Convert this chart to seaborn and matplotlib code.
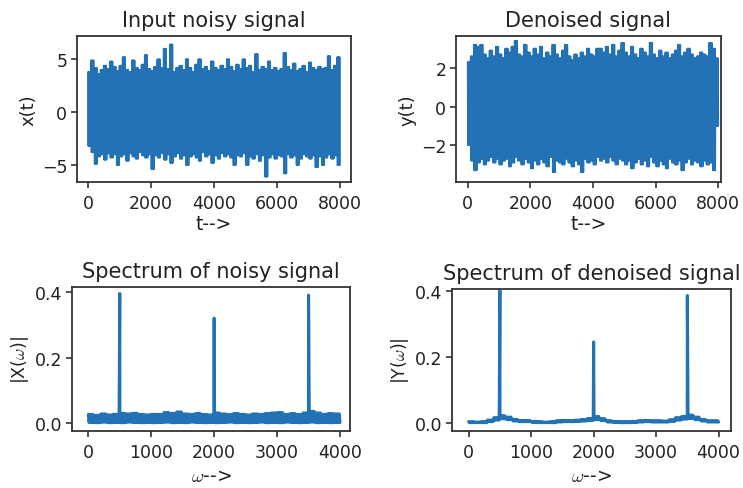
import numpy as np
import pandas as pd
import matplotlib
matplotlib.use("Agg")
import matplotlib.pyplot as plt
import seaborn as sns

# ---------------- data ----------------
# time-domain envelopes (one value per 100 samples, 0..8000)
noisy_upper = [3.8, 4.9, 4.2, 3.6, 4.0, 4.4, 4.1, 4.8, 4.3, 3.9,
               4.4, 5.2, 4.0, 3.8, 4.9, 4.2, 4.0, 4.5, 5.4, 4.1,
               3.9, 4.3, 5.0, 4.2, 6.0, 4.1, 6.4, 3.8, 4.2, 4.4,
               4.0, 5.0, 4.2, 3.8, 4.5, 5.0, 4.1, 4.3, 3.9, 4.8,
               4.2, 4.0, 4.4, 4.1, 5.0, 4.3, 3.9, 4.5, 4.1, 5.0,
               4.2, 4.4, 3.8, 5.5, 4.0, 4.3, 4.1, 4.8, 4.0, 4.2,
               3.9, 4.1, 5.6, 4.3, 4.0, 4.6, 3.9, 4.1, 4.4, 3.8,
               4.7, 4.2, 4.0, 4.3, 4.1, 4.2, 5.3, 4.0, 4.4, 5.2]
noisy_lower = [-3.2, -3.8, -4.9, -4.2, -4.0, -4.5, -3.9, -4.3, -4.0, -5.0,
               -4.2, -4.0, -4.6, -3.9, -4.2, -4.4, -3.8, -4.1, -4.3, -4.0,
               -5.4, -4.1, -4.3, -3.9, -4.5, -4.0, -4.8, -4.2, -3.9, -4.4,
               -4.1, -5.0, -4.2, -4.0, -4.3, -4.6, -3.8, -4.2, -4.0, -4.8,
               -4.1, -4.4, -3.9, -4.2, -4.0, -4.3, -5.0, -4.1, -4.2, -3.9,
               -5.0, -4.2, -4.4, -4.0, -4.6, -4.1, -6.1, -4.3, -4.0, -4.4,
               -4.1, -4.2, -5.8, -4.0, -4.3, -4.1, -5.0, -4.4, -4.0, -4.2,
               -4.4, -4.1, -5.2, -4.2, -5.0, -4.3, -4.0, -4.4, -4.1, -5.0]
den_upper = [2.3, 2.6, 3.2, 3.1, 3.2, 2.7, 2.5, 2.9, 2.6, 3.1,
             2.7, 2.5, 3.0, 2.8, 3.1, 3.4, 2.7, 2.6, 3.2, 2.8,
             2.6, 3.0, 2.7, 3.1, 2.5, 2.8, 2.6, 3.2, 2.7, 2.5,
             2.9, 3.2, 2.6, 2.4, 2.7, 2.5, 2.8, 2.6, 3.0, 2.7,
             2.6, 3.0, 3.0, 2.8, 3.1, 2.7, 3.2, 2.6, 2.9, 3.3,
             2.8, 2.6, 3.1, 2.7, 2.5, 3.0, 2.8, 2.6, 3.3, 2.7,
             2.5, 2.9, 2.6, 2.8, 2.5, 2.7, 2.9, 3.2, 2.6, 2.8,
             3.0, 2.7, 2.5, 2.6, 2.8, 2.7, 2.6, 3.3, 3.0, 2.5]
den_lower = [-2.0, -2.8, -3.3, -2.9, -2.7, -3.0, -2.8, -2.6, -2.9, -2.7,
             -3.0, -2.8, -2.7, -3.1, -2.9, -2.6, -2.8, -3.0, -2.7, -2.9,
             -3.2, -2.8, -3.0, -2.7, -2.9, -3.1, -2.6, -3.4, -2.8, -2.9,
             -3.0, -2.7, -2.9, -3.1, -2.8, -3.0, -3.4, -2.7, -2.9, -2.8,
             -3.0, -2.6, -2.8, -2.7, -2.9, -2.6, -2.8, -3.0, -2.7, -2.8,
             -3.0, -2.8, -3.2, -2.9, -2.7, -3.0, -2.8, -3.1, -2.6, -2.9,
             -3.1, -2.8, -3.0, -3.2, -2.7, -2.9, -3.0, -2.8, -3.3, -2.9,
             -2.7, -3.0, -2.8, -2.9, -3.1, -2.8, -3.0, -2.9, -3.3, -1.0]

# spectra: floor band (one value per 100 Hz, 0..4000) and the three peaks
peak_freqs = [500, 2000, 3500]
noisy_peaks = [0.395, 0.32, 0.39]
den_peaks = [0.40, 0.245, 0.385]
noisy_floor_hi = [0.026, 0.024, 0.028, 0.025, 0.027, 0.030, 0.028, 0.030, 0.026, 0.025,
                  0.027, 0.026, 0.032, 0.029, 0.034, 0.028, 0.027, 0.029, 0.026, 0.025,
                  0.031, 0.028, 0.026, 0.029, 0.027, 0.025, 0.028, 0.027, 0.029, 0.031,
                  0.032, 0.027, 0.029, 0.026, 0.031, 0.036, 0.031, 0.027, 0.029, 0.028]
noisy_floor_lo = [0.002, 0.001, 0.003, 0.001, 0.002, 0.001, 0.003, 0.002, 0.001, 0.002,
                  0.001, 0.002, 0.003, 0.001, 0.002, 0.001, 0.003, 0.002, 0.001, 0.002,
                  0.001, 0.002, 0.003, 0.001, 0.002, 0.001, 0.002, 0.003, 0.001, 0.002,
                  0.001, 0.003, 0.002, 0.001, 0.002, 0.003, 0.001, 0.002, 0.001, 0.002]
den_floor_hi = [0.004, 0.003, 0.004, 0.009, 0.016, 0.022, 0.018, 0.011, 0.008, 0.008,
                0.005, 0.004, 0.003, 0.004, 0.007, 0.008, 0.008, 0.009, 0.011, 0.014,
                0.020, 0.013, 0.007, 0.005, 0.004, 0.004, 0.005, 0.007, 0.008, 0.007,
                0.007, 0.006, 0.010, 0.016, 0.020, 0.024, 0.018, 0.011, 0.007, 0.007]
den_floor_lo = [0.001, 0.001, 0.001, 0.004, 0.009, 0.013, 0.010, 0.006, 0.004, 0.004,
                0.002, 0.001, 0.001, 0.001, 0.003, 0.004, 0.004, 0.005, 0.006, 0.008,
                0.011, 0.007, 0.003, 0.002, 0.001, 0.001, 0.002, 0.003, 0.004, 0.003,
                0.003, 0.003, 0.005, 0.009, 0.012, 0.014, 0.010, 0.006, 0.003, 0.003]

titles = ["Input noisy signal", "Denoised signal",
          "Spectrum of noisy signal", "Spectrum of denoised signal"]
ylabels = ["x(t)", "y(t)", r"|X($\omega$)|", r"|Y($\omega$)|"]
xlabels = ["t-->", "t-->", r"$\omega$-->", r"$\omega$-->"]


def band_series(upper, lower, xmax, reps):
    pairs = np.repeat(np.column_stack([upper, lower]), reps, axis=0)
    vals = np.ravel(pairs)
    x = np.linspace(0, xmax, len(vals))
    return x, vals


def spectrum_series(hi, lo, freqs, peaks, xmax, reps):
    x, v = band_series(hi, lo, xmax, reps)
    x = np.concatenate([x, freqs])
    v = np.concatenate([v, peaks])
    order = np.argsort(x, kind="stable")
    return x[order], v[order]


# ---------------- style ----------------
sns.set_style("ticks")
plt.rcParams["font.family"] = ["DejaVu Sans"]
plt.rcParams["mathtext.fontset"] = "cm"
plt.rcParams["axes.edgecolor"] = "#333333"
plt.rcParams["axes.linewidth"] = 1.3
plt.rcParams["xtick.color"] = "#222222"
plt.rcParams["ytick.color"] = "#222222"
plt.rcParams["text.color"] = "#222222"
plt.rcParams["axes.labelcolor"] = "#222222"

color = "#2372b6"
fig = plt.figure(figsize=(7.43, 4.89), dpi=100)

rects = [[0.1036, 0.6258, 0.3688, 0.2986],
         [0.6137, 0.6258, 0.3567, 0.2986],
         [0.0969, 0.1166, 0.3742, 0.2945],
         [0.6083, 0.1166, 0.3755, 0.2904]]
xlims = [(-350, 8350), (-372, 8085), (-259, 4159), (-267, 4198)]
ylims = [(-6.6, 7.2), (-3.9, 3.65), (-0.024, 0.415), (-0.024, 0.405)]
yticks = [[-5, 0, 5], [-2, 0, 2], [0.0, 0.2, 0.4], [0.0, 0.2, 0.4]]
xticks = [[0, 2000, 4000, 6000, 8000], [0, 2000, 4000, 6000, 8000],
          [0, 1000, 2000, 3000, 4000], [0, 1000, 2000, 3000, 4000]]

series = [band_series(noisy_upper, noisy_lower, 8000, 4),
          band_series(den_upper, den_lower, 8000, 4),
          spectrum_series(noisy_floor_hi, noisy_floor_lo, peak_freqs, noisy_peaks, 4000, 4),
          spectrum_series(den_floor_hi, den_floor_lo, peak_freqs, den_peaks, 4000, 4)]

for i in range(4):
    ax = fig.add_axes(rects[i])
    x, v = series[i]
    df = pd.DataFrame({"x": x, "v": v})
    sns.lineplot(data=df, x="x", y="v", ax=ax, color=color,
                 linewidth=1.2 if i < 2 else 2.2, estimator=None, sort=False)
    ax.set_xlim(*xlims[i])
    ax.set_ylim(*ylims[i])
    ax.set_xticks(xticks[i])
    ax.set_yticks(yticks[i])
    if i >= 2:
        ax.set_yticklabels(["0.0", "0.2", "0.4"])
    ax.tick_params(labelsize=12.5, length=4, width=1.1)
    ax.tick_params(axis="x", pad=5)
    ax.tick_params(axis="y", pad=3)
    ax.set_title(titles[i], fontsize=15, pad=7)
    ax.set_ylabel(ylabels[i], fontsize=13 if i < 2 else 12.5, labelpad=3)
    ax.set_xlabel(xlabels[i], fontsize=13.5, labelpad=1 if i < 2 else 3)
    for s in ax.spines.values():
        s.set_visible(True)

fig.savefig("out.png", dpi=100)
